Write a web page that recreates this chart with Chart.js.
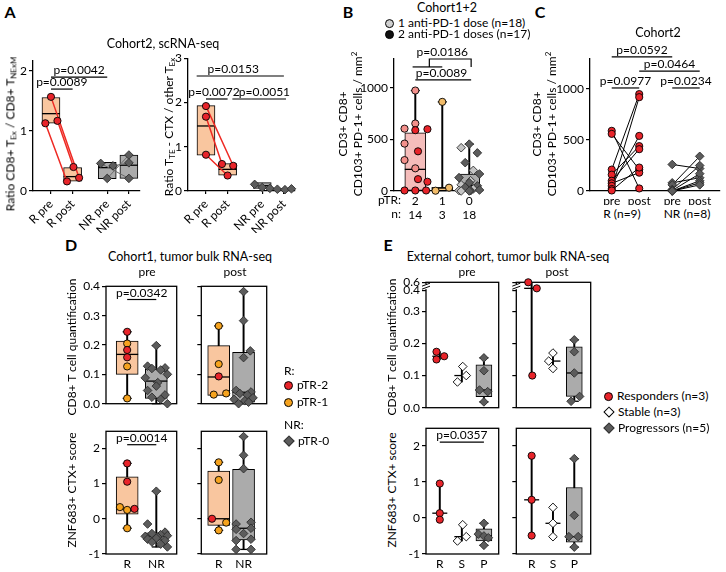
<!DOCTYPE html>
<html>
<head>
<meta charset="utf-8">
<title>Figure</title>
<script src="https://cdn.jsdelivr.net/npm/chart.js@4.4.1/dist/chart.umd.min.js"></script>
<style>
  body { margin: 0; background: #fff; }
  #fig { position: relative; width: 726px; height: 572px; overflow: hidden; font-family: Lato, "Liberation Sans", sans-serif; color: #000; }
  #fig canvas { position: absolute; }
  .t { position: absolute; white-space: nowrap; font-size: 12px; line-height: 1.15; transform: translate(-50%, -50%); }
  .l { transform: translate(0, -50%); }
  .r { transform: translate(-100%, -50%); }
  .v { transform: translate(-50%, -50%) rotate(-90deg); text-align: center; }
  .big { font-size: 16px; font-weight: 700; }
  .ttl { font-size: 12.5px; }
  sub { font-size: 8px; vertical-align: -2px; }
  sup { font-size: 8px; vertical-align: 5px; }
  .dot { display: inline-block; width: 7px; height: 7px; border-radius: 50%; border: 1px solid #000; margin-right: 4px; vertical-align: -1px; }
  .dia { display: inline-block; width: 6px; height: 6px; border: 1px solid #333; transform: rotate(45deg); margin-right: 5px; margin-left: 1px; vertical-align: 0; }
</style>
</head>
<body>
<div id="fig"></div>
<script>
// ---------- values ----------

// A left: Ratio CD8+ TEx / CD8+ TNExM (pre and post are paired by index)
const aCats = ['R pre', 'R post', 'NR pre', 'NR post'];
const aLeftRPre = [1.57, 1.13, 1.17];
const aLeftRPost = [0.22, 0.16, 0.40];
const aLeftNRPre = [0.46, 0.21, 0.42];
const aLeftNRPost = [0.21, 0.60, 0.47];
const aLeftBoxLow = [1.13, 0.165, 0.205, 0.21];
const aLeftBoxHigh = [1.56, 0.39, 0.48, 0.60];
const aLeftMedian = [1.29, 0.24, 0.39, 0.43];

// A right: Ratio TTE-CTX / other TEx
const aRightRPre = [1.92, 1.68, 0.82];
const aRightRPost = [0.57, 0.61, 0.35];
const aRightNRPre = [0.15, 0.08, 0.06];
const aRightNRPost = [0.04, 0.03, 0.05];
const aRightBoxLow = [0.81, 0.36, 0.06, 0.02];
const aRightBoxHigh = [1.93, 0.62, 0.19, 0.05];
const aRightMedian = [1.47, 0.49, 0.12, 0.03];

// B: cells / mm2 by pTR (dose 1 = light, dose 2 = dark)
const bCats = ['2', '1', '0'];
const bCounts = ['14', '3', '18'];
const bPtr2 = [975, 655, 605, 600, 590, 460, 385, 300, 220, 115, 90, 5, 5, 5];
const bPtr2Doses = [1, 1, 1, 2, 2, 1, 2, 1, 1, 2, 2, 2, 2, 2];
const bPtr1 = [865, 32, 3];
const bPtr0 = [455, 420, 370, 275, 200, 165, 130, 100, 80, 60, 50, 35, 20, 10, 5, 3, 0, 0];
const bPtr0Doses = [2, 1, 2, 2, 1, 2, 2, 1, 2, 1, 2, 2, 1, 2, 1, 2, 2, 1];
const bBoxLow = [0, 3, 3];
const bBoxHigh = [565, 32, 165];
const bMedian = [210, 30, 55];

// C: paired pre / post
const cCats = ['pre', 'post', 'pre', 'post'];
const cRPre = [590, 560, 210, 160, 100, 75, 50, 20, 5];
const cRPost = [25, 210, 950, 440, 410, 180, 540, 920, 230];
const cNRPre = [260, 80, 60, 15, 5, 0, 0, 0];
const cNRPost = [220, 130, 340, 250, 170, 100, 80, 60];

// D: Cohort1 bulk RNA-seq (type 2 = pTR-2, 1 = pTR-1)
const dCats = ['R', 'NR'];
const dCd8PreR = [0.245, 0.205, 0.183, 0.158, 0.127, 0.018];
const dCd8PreRType = [2, 1, 2, 2, 1, 1];
const dCd8PreNR = [0.198, 0.128, 0.122, 0.12, 0.115, 0.10, 0.088, 0.072, 0.06, 0.045, 0.03, 0.022, 0.015, 0.0];
const dCd8PostR = [0.265, 0.135, 0.093, 0.031, 0.035];
const dCd8PostRType = [1, 1, 2, 1, 1];
const dCd8PostNR = [0.382, 0.283, 0.18, 0.157, 0.045, 0.04, 0.035, 0.03, 0.02, 0.015, 0.01, 0.005, 0.0];
const dZnfPreR = [1.57, 1.05, 0.33, 0.25, 0.28, -0.27];
const dZnfPreRType = [2, 2, 1, 1, 2, 1];
const dZnfPreNR = [0.78, -0.15, -0.38, -0.42, -0.45, -0.48, -0.5, -0.52, -0.55, -0.58, -0.62, -0.66, -0.72, -0.8];
const dZnfPostR = [1.6, 1.1, 0.0, -0.11, -0.33];
const dZnfPostRType = [1, 1, 2, 1, 1];
const dZnfPostNR = [2.33, 1.8, 1.42, -0.1, -0.15, -0.27, -0.3, -0.42, -0.58, -0.62, -0.87, -0.87];
// box [low, high, median] for R and NR
const dCd8PreBox = [[0.10, 0.213, 0.168], [0.018, 0.118, 0.077]];
const dCd8PostBox = [[0.028, 0.198, 0.091], [0.005, 0.175, 0.039]];
const dZnfPreBox = [[0.13, 1.19, 0.28], [-0.61, -0.40, -0.50]];
const dZnfPostBox = [[-0.19, 1.35, 0.0], [-0.60, 1.40, -0.27]];

// E: external cohort (R responders, S stable, P progressors)
const eCats = ['R', 'S', 'P'];
const eCd8PreR = [0.174, 0.15, 0.16];
const eCd8PreS = [0.128, 0.10, 0.08];
const eCd8PreP = [0.155, 0.115, 0.055, 0.05, 0.018];
const eCd8PostR = [0.60, 0.45, 0.10];
const eCd8PostS = [0.17, 0.145, 0.122];
const eCd8PostP = [0.211, 0.174, 0.108, 0.035, 0.02];
const eZnfPreR = [0.95, 0.13, -0.05];
const eZnfPreS = [-0.19, -0.52, -0.64];
const eZnfPreP = [-0.15, -0.45, -0.5, -0.55, -0.76];
const eZnfPostR = [1.72, 0.5, -0.49];
const eZnfPostS = [0.29, -0.15, -0.52];
const eZnfPostP = [1.64, 0.07, -0.52, -0.52, -0.81];
// box [low, high] for P
const eCd8PrePBox = [0.034, 0.133];
const eCd8PostPBox = [0.035, 0.189];
const eZnfPrePBox = [-0.64, -0.30];
const eZnfPostPBox = [-0.67, 0.84];

// ---------- styling ----------
const FONT = 'Lato, "Liberation Sans", sans-serif';
const RED = '#e8242a', ORANGE = '#f6a31e', PINK = '#f3908b', LORANGE = '#f3bd6a';
const DGRAY = '#5c5c5c', LGRAY = '#c4c4c4';
const BOX_OR = '#f9c69f', BOX_GR = '#ababab', BOX_PK = '#f5bdbb';
const JIT = [0, -0.3, 0.3, -0.15, 0.15, 0.38, -0.38, 0.05];

Chart.defaults.font.family = FONT;
Chart.defaults.font.size = 12;
Chart.defaults.color = '#000';

const fig = document.getElementById('fig');

const median = a => [...a].sort((p, q) => p - q)[Math.floor(a.length / 2)];

function grp(x0, vals, jit, colors, shape, border) {
    return vals.map((v, i) => ({
        x: x0 + (jit ? jit[i % jit.length] : 0),
        y: v,
        c: Array.isArray(colors) ? colors[i] : colors,
        s: shape,
        b: border || (shape === 'rectRot' ? '#2e2e2e' : '#000')
    }));
}

function pointSet(points) {
    return {
        type: 'scatter', order: 0, clip: false,
        data: points.map(p => ({ x: p.x, y: p.y })),
        pointBackgroundColor: points.map(p => p.c),
        pointBorderColor: points.map(p => p.b),
        pointStyle: points.map(p => p.s),
        pointRadius: points.map(p => p.s === 'rectRot' ? 4.3 : 3.6),
        pointBorderWidth: 0.9
    };
}

function pairLines(x0, x1, pre, post, jPre, jPost, color, width) {
    const data = [];
    pre.forEach((v, i) => {
        data.push({ x: x0 + (jPre ? jPre[i] : 0), y: v }, { x: x1 + (jPost ? jPost[i] : 0), y: post[i] }, { x: x1, y: null });
    });
    return { type: 'line', order: 1, clip: false, data, borderColor: color, borderWidth: width, pointRadius: 0, spanGaps: false, fill: false, tension: 0 };
}

function boxSets(boxes, half) {
    const whisk = boxes.filter(b => b.min != null);
    const bx = boxes.filter(b => b.lo != null);
    const meds = boxes.filter(b => b.med != null);
    return [
        { type: 'bar', order: 5, clip: false, grouped: false, barThickness: 1.3, backgroundColor: '#000', borderWidth: 0,
          data: whisk.map(b => ({ x: b.x, y: [b.min, b.max] })) },
        { type: 'scatter', order: 4, clip: false, pointStyle: 'line', pointRadius: 4.5, pointBorderWidth: 1.3, pointBorderColor: '#000',
          data: whisk.filter(b => b.caps).flatMap(b => [{ x: b.x, y: b.min }, { x: b.x, y: b.max }]) },
        { type: 'bar', order: 3, clip: false, grouped: false, barThickness: half * 2, borderSkipped: false, borderWidth: 1, borderColor: '#000',
          backgroundColor: bx.map(b => b.fill), data: bx.map(b => ({ x: b.x, y: [b.lo, b.hi] })) },
        { type: 'scatter', order: 2, clip: false, pointStyle: 'line', pointRadius: meds.map(b => b.mw || half), pointBorderWidth: 1.3, pointBorderColor: '#000',
          data: meds.map(b => ({ x: b.x, y: b.med })) }
    ];
}

function xAxis(g, min, max, pos, labels, o = {}) {
    return {
        type: 'linear', min, max, offset: false,
        afterBuildTicks: s => { s.ticks = pos.map(v => ({ value: v })); },
        afterFit: s => { s.height = g.xH; s.paddingLeft = 0; s.paddingRight = 0; },
        grid: { display: !!o.marks, drawOnChartArea: false, drawTicks: true, tickLength: o.marks || 0, color: '#000', lineWidth: 1.2, offset: false },
        border: { display: !g.frame, color: '#000', width: 1.3 },
        ticks: {
            display: !!labels, autoSkip: false, minRotation: o.rot || 0, maxRotation: o.rot || 0,
            padding: o.pad == null ? 3 : o.pad, font: { size: 12, lineHeight: 1.2 }, color: '#000',
            callback: (v, i) => labels ? labels[i] : ''
        }
    };
}

function yAxis(g, min, max, ticks, labels) {
    return {
        type: 'linear', min, max,
        afterBuildTicks: s => { s.ticks = ticks.map(v => ({ value: v })); },
        afterFit: s => { s.width = g.yW; s.paddingTop = 0; s.paddingBottom = 0; },
        grid: { display: true, drawOnChartArea: false, drawTicks: true, tickLength: 4, color: '#000', lineWidth: 1.2 },
        border: { display: !g.frame, color: '#000', width: 1.3 },
        ticks: { padding: 2, font: { size: 12 }, color: '#000', callback: (v, i) => labels ? labels[i] : '' }
    };
}

function annotPlugin(a) {
    return {
        id: 'annot',
        beforeDatasetsDraw(chart) {
            if (!a.frame) return;
            const { ctx, chartArea: c } = chart;
            ctx.save();
            ctx.strokeStyle = '#000';
            ctx.lineWidth = 1.3;
            ctx.strokeRect(c.left, c.top, c.right - c.left, c.bottom - c.top);
            ctx.restore();
        },
        afterDraw(chart) {
            const { ctx, scales: { x, y }, chartArea: c } = chart;
            ctx.save();
            ctx.strokeStyle = '#000';
            ctx.fillStyle = '#000';
            ctx.lineWidth = 1.2;
            ctx.font = '12px ' + FONT;
            ctx.textAlign = 'center';
            ctx.textBaseline = 'alphabetic';
            (a.brackets || []).forEach(b => {
                const x1 = x.getPixelForValue(b.x1), x2 = x.getPixelForValue(b.x2), yy = y.getPixelForValue(b.y);
                ctx.beginPath();
                if (b.drop != null) {
                    const yd = y.getPixelForValue(b.drop);
                    ctx.moveTo(x1, yd); ctx.lineTo(x1, yy); ctx.lineTo(x2, yy); ctx.lineTo(x2, yd);
                } else {
                    ctx.moveTo(x1, yy); ctx.lineTo(x2, yy);
                }
                ctx.stroke();
                if (b.text) ctx.fillText(b.text, x.getPixelForValue(b.tx != null ? b.tx : (b.x1 + b.x2) / 2), yy - 3);
            });
            if (a.brk != null) {
                const yb = y.getPixelForValue(a.brk);
                ctx.fillStyle = '#fff';
                ctx.fillRect(c.left - 2, yb - 2, 4, 5);
                ctx.beginPath();
                ctx.moveTo(c.left - 4, yb); ctx.lineTo(c.left + 4, yb - 3);
                ctx.moveTo(c.left - 4, yb + 3); ctx.lineTo(c.left + 4, yb);
                ctx.lineWidth = 1;
                ctx.stroke();
            }
            ctx.restore();
        }
    };
}

function addChart(g, xs, ys, datasets, annot = {}) {
    const w = g.R - g.L + g.yW + g.pr, h = g.B - g.T + g.pt + g.xH;
    const cv = document.createElement('canvas');
    cv.width = w;
    cv.height = h;
    Object.assign(cv.style, { left: (g.L - g.yW) + 'px', top: (g.T - g.pt) + 'px', width: w + 'px', height: h + 'px' });
    fig.appendChild(cv);
    annot.frame = !!g.frame;
    new Chart(cv, {
        type: 'scatter',
        data: { datasets },
        options: {
            responsive: false, animation: false, events: [], devicePixelRatio: 1,
            layout: { padding: { top: g.pt, right: g.pr, left: 0, bottom: 0 } },
            plugins: { legend: { display: false }, tooltip: { enabled: false } },
            scales: { x: xs, y: ys }
        },
        plugins: [annotPlugin(annot)]
    });
}

function text(html, x, y, cls = '') {
    const d = document.createElement('div');
    d.className = 't ' + cls;
    d.innerHTML = html;
    d.style.left = x + 'px';
    d.style.top = y + 'px';
    fig.appendChild(d);
}

// ---------- layout of plot areas (page pixels) ----------
const gAL = { L: 33, T: 60, R: 146, B: 191, yW: 18, xH: 42, pt: 10, pr: 4 };
const gAR = { L: 188, T: 58, R: 301, B: 191, yW: 18, xH: 42, pt: 10, pr: 4 };
const gB = { L: 394, T: 59, R: 490, B: 191, yW: 34, xH: 32, pt: 16, pr: 4 };
const gC = { L: 590, T: 59, R: 722, B: 191, yW: 34, xH: 14, pt: 18, pr: 3 };
const gD1 = { L: 106, T: 282, R: 186, B: 412, yW: 28, xH: 4, pt: 8, pr: 3, frame: true };
const gD2 = { L: 197, T: 282, R: 276, B: 412, yW: 8, xH: 4, pt: 8, pr: 3, frame: true };
const gD3 = { L: 106, T: 423, R: 186, B: 554, yW: 28, xH: 18, pt: 4, pr: 3, frame: true };
const gD4 = { L: 197, T: 423, R: 276, B: 554, yW: 8, xH: 18, pt: 4, pr: 3, frame: true };
const gE1 = { L: 426, T: 281, R: 505, B: 413, yW: 26, xH: 4, pt: 8, pr: 3, frame: true };
const gE2 = { L: 515, T: 281, R: 597, B: 413, yW: 8, xH: 4, pt: 8, pr: 3, frame: true };
const gE3 = { L: 426, T: 423, R: 505, B: 554, yW: 26, xH: 18, pt: 4, pr: 3, frame: true };
const gE4 = { L: 515, T: 423, R: 597, B: 554, yW: 8, xH: 18, pt: 4, pr: 3, frame: true };

// ---------- A ----------
const aPos = [0, 1, 2.6, 3.6];
(() => {
    const g = gAL;
    const pts = [
        ...grp(aPos[0], aLeftRPre, [0, -0.26, 0.3], RED, 'circle'),
        ...grp(aPos[1], aLeftRPost, [0.3, -0.26, 0.04], RED, 'circle'),
        ...grp(aPos[2], aLeftNRPre, [-0.3, 0, 0.27], DGRAY, 'rectRot'),
        ...grp(aPos[3], aLeftNRPost, [0, 0, 0], DGRAY, 'rectRot')
    ];
    const boxes = aPos.map((p, i) => ({ x: p, lo: aLeftBoxLow[i], hi: aLeftBoxHigh[i], med: aLeftMedian[i], fill: i < 2 ? BOX_OR : BOX_GR }));
    addChart(g, xAxis(g, -0.83, 4.1, aPos, aCats, { rot: 45, marks: 3 }), yAxis(g, 0, 2.18, [0, 1, 2], ['0', '1', '2']), [
        pointSet(pts),
        pairLines(aPos[0], aPos[1], aLeftRPre, aLeftRPost, [0, -0.26, 0.3], [0.3, -0.26, 0.04], '#ee2a24', 1.5),
        pairLines(aPos[2], aPos[3], aLeftNRPre, aLeftNRPost, [-0.3, 0, 0.27], [0, 0, 0], '#6a6a6a', 1),
        ...boxSets(boxes, 9)
    ], {
        brackets: [
            { x1: 0, x2: 1, y: 1.70, text: 'p=0.0089' },
            { x1: 0, x2: 2.6, y: 1.90, text: 'p=0.0042' }
        ]
    });
})();

(() => {
    const g = gAR;
    const jPre = [0, 0, 0], jPost = [0.26, -0.26, 0], jNPre = [-0.35, 0, 0.35], jNPost = [-0.3, 0.05, 0.35];
    const pts = [
        ...grp(aPos[0], aRightRPre, jPre, RED, 'circle'),
        ...grp(aPos[1], aRightRPost, jPost, RED, 'circle'),
        ...grp(aPos[2], aRightNRPre, jNPre, DGRAY, 'rectRot'),
        ...grp(aPos[3], aRightNRPost, jNPost, DGRAY, 'rectRot')
    ];
    const boxes = aPos.map((p, i) => ({ x: p, lo: aRightBoxLow[i], hi: aRightBoxHigh[i], med: aRightMedian[i], fill: i < 2 ? BOX_OR : BOX_GR }));
    addChart(g, xAxis(g, -0.83, 4.1, aPos, aCats, { rot: 45, marks: 3 }), yAxis(g, 0, 3, [0, 1, 2, 3], ['0', '1', '2', '3']), [
        pointSet(pts),
        pairLines(aPos[0], aPos[1], aRightRPre, aRightRPost, jPre, jPost, '#ee2a24', 1.5),
        pairLines(aPos[2], aPos[3], aRightNRPre, aRightNRPost, jNPre, jNPost, '#6a6a6a', 1),
        ...boxSets(boxes, 9)
    ], {
        brackets: [
            { x1: 0, x2: 1, y: 2.08, text: 'p=0.0072', tx: 0.37 },
            { x1: 1.22, x2: 3.7, y: 2.08, text: 'p=0.0051', tx: 2.7 },
            { x1: -0.43, x2: 3.6, y: 2.6, text: 'p=0.0153', tx: 1.26 }
        ]
    });
})();

// ---------- B ----------
(() => {
    const g = gB;
    const bPos = [0, 1, 2];
    const groups = [bPtr2, bPtr1, bPtr0];
    const pts = [
        ...grp(0, bPtr2, [0, 0, -0.4, 0.45, 0, -0.4, 0.1, -0.4, 0, 0.1, 0.45, -0.4, 0, 0.4], bPtr2Doses.map(d => d === 2 ? RED : PINK), 'circle'),
        ...grp(1, bPtr1, [0, 0.25, -0.25], LORANGE, 'circle'),
        ...grp(2, bPtr0, JIT, bPtr0Doses.map(d => d === 2 ? DGRAY : LGRAY), 'rectRot')
    ];
    const boxes = bPos.map((p, i) => ({
        x: p, lo: bBoxLow[i], hi: bBoxHigh[i], med: bMedian[i],
        min: Math.min(...groups[i]), max: Math.max(...groups[i]), caps: true,
        fill: [BOX_PK, '#f7c27a', BOX_GR][i]
    }));
    addChart(g, xAxis(g, -0.79, 2.48, bPos, bCats.map((c, i) => [c, bCounts[i]])),
        yAxis(g, 0, 1281, [0, 500, 1000], ['0', '500', '1000']), [
        pointSet(pts),
        ...boxSets(boxes, 10.5)
    ], {
        brackets: [
            { x1: -0.1, x2: 1.0, y: 1204 },
            { x1: 0.52, x2: 2.07, y: 1281, drop: 1204, text: 'p=0.0186', tx: 1.0 },
            { x1: 0, x2: 2.07, y: 1078, text: 'p=0.0089', tx: 0.97 }
        ]
    });
})();

// ---------- C ----------
(() => {
    const g = gC;
    const cPos = [0, 1, 2.2, 3.2];
    const pts = [
        ...grp(cPos[0], cRPre, null, RED, 'circle'),
        ...grp(cPos[1], cRPost, null, RED, 'circle'),
        ...grp(cPos[2], cNRPre, null, DGRAY, 'rectRot'),
        ...grp(cPos[3], cNRPost, null, DGRAY, 'rectRot')
    ];
    addChart(g, xAxis(g, -0.79, 3.93, cPos, cCats), yAxis(g, 0, 1294, [0, 500, 1000], ['0', '500', '1000']), [
        pointSet(pts),
        pairLines(cPos[0], cPos[1], cRPre, cRPost, null, null, '#000', 1),
        pairLines(cPos[2], cPos[3], cNRPre, cNRPost, null, null, '#000', 1)
    ], {
        brackets: [
            { x1: 0, x2: 2.2, y: 1314, text: 'p=0.0592' },
            { x1: 1, x2: 3.2, y: 1176, text: 'p=0.0464' },
            { x1: 0, x2: 1, y: 1010, text: 'p=0.0977' },
            { x1: 2.2, x2: 3.2, y: 1010, text: 'p=0.0234' }
        ]
    });
})();

// ---------- D ----------
function dPanel(g, xmin, xmax, rVals, rTypes, rJit, nrVals, nrJit, box, yr, yt, ylab, xlab, brackets) {
    const pts = [
        ...grp(0, rVals, rJit, rTypes.map(t => t === 2 ? RED : ORANGE), 'circle'),
        ...grp(1, nrVals, nrJit, DGRAY, 'rectRot')
    ];
    const boxes = [rVals, nrVals].map((vals, i) => ({
        x: i, lo: box[i][0], hi: box[i][1], med: box[i][2],
        min: Math.min(...vals), max: Math.max(...vals), caps: true, fill: i === 0 ? BOX_OR : BOX_GR
    }));
    addChart(g, xAxis(g, xmin, xmax, [0, 1], xlab), yAxis(g, yr[0], yr[1], yt, ylab), [pointSet(pts), ...boxSets(boxes, 11)], { brackets });
}
const dTopTicks = [0, 0.1, 0.2, 0.3, 0.4];
const dTopLabels = dTopTicks.map(v => v.toFixed(1));
const scoreTicks = [-1, 0, 1, 2];
const scoreLabels = ['-1', '0', '1', '2'];
dPanel(gD1, -0.727, 1.70, dCd8PreR, dCd8PreRType, [0, 0, 0, 0, 0, 0], dCd8PreNR, JIT, dCd8PreBox,
    [0, 0.4], dTopTicks, dTopLabels, null, [{ x1: 0, x2: 1, y: 0.355, text: 'p=0.0342' }]);
dPanel(gD2, -0.7, 1.93, dCd8PostR, dCd8PostRType, [0, 0, 0, -0.2, 0.3], dCd8PostNR, [0, 0, 0.27, 0, -0.3, 0.3, -0.15, 0.15, 0.38, -0.38, 0.05, 0.2, -0.2], dCd8PostBox,
    [0, 0.4], dTopTicks, null, null, []);
dPanel(gD3, -0.727, 1.70, dZnfPreR, dZnfPreRType, [0, 0, -0.25, 0, 0.25, 0], dZnfPreNR, JIT, dZnfPreBox,
    [-1, 2.48], scoreTicks, scoreLabels, dCats, [{ x1: 0, x2: 1, y: 2.1, text: 'p=0.0014' }]);
dPanel(gD4, -0.7, 1.93, dZnfPostR, dZnfPostRType, [0, 0, -0.27, 0.3, 0], dZnfPostNR, [0, 0, 0, 0.3, -0.3, 0.3, -0.3, 0, 0.3, -0.3, -0.3, 0.3], dZnfPostBox,
    [-1, 2.48], scoreTicks, null, dCats, []);

// ---------- E ----------
// broken y axis above 0.4 in the CD8+ rows: 0.4 -> 0.365, 0.6 -> 0.39 on the drawn scale
const brk = v => v <= 0.35 ? v : 0.365 + (v - 0.4) * 0.125;
function ePanel(g, xmin, xmax, r, s, p, jr, js, jp, pBox, yr, yt, ylab, xlab, map, extra) {
    const f = map || (v => v);
    const pts = [
        ...grp(0, r.map(f), jr, RED, 'circle'),
        ...grp(1, s.map(f), js, '#fff', 'rectRot', '#000'),
        ...grp(2, p.map(f), jp, DGRAY, 'rectRot')
    ];
    const boxes = [
        { x: 0, med: f(median(r)), min: f(Math.min(...r)), max: f(Math.max(...r)), mw: 7.5 },
        { x: 1, med: f(median(s)), min: f(Math.min(...s)), max: f(Math.max(...s)), mw: 7.5 },
        { x: 2, lo: f(pBox[0]), hi: f(pBox[1]), med: f(median(p)), min: f(Math.min(...p)), max: f(Math.max(...p)), caps: true, fill: BOX_GR }
    ];
    addChart(g, xAxis(g, xmin, xmax, [0, 1, 2], xlab), yAxis(g, yr[0], yr[1], yt, ylab), [pointSet(pts), ...boxSets(boxes, 8)], extra);
}
const eTopTicks = [0, 0.1, 0.2, 0.3, 0.365, 0.39];
const eTopLabels = ['0.0', '0.1', '0.2', '0.3', '0.4', '0.6'];
ePanel(gE1, -0.625, 2.67, eCd8PreR, eCd8PreS, eCd8PreP, [-0.15, -0.15, 0.2], [0.04, 0.2, -0.2], [0, 0, -0.2, 0.17, 0], eCd8PrePBox,
    [0, 0.39], eTopTicks, eTopLabels, null, brk, { brk: 0.378 });
ePanel(gE2, -0.72, 2.77, eCd8PostR, eCd8PostS, eCd8PostP, [-0.16, 0.24, 0.03], [0, -0.2, 0], [0, 0, 0, 0.25, -0.15], eCd8PostPBox,
    [0, 0.39], eTopTicks, null, null, brk, { brk: 0.378 });
ePanel(gE3, -0.625, 2.67, eZnfPreR, eZnfPreS, eZnfPreP, [0, 0, 0], [0.04, 0.2, -0.2], [0, -0.25, 0, 0.2, 0], eZnfPrePBox,
    [-1, 2.48], scoreTicks, scoreLabels, eCats, null, { brackets: [{ x1: 0, x2: 2, y: 2.1, text: 'p=0.0357' }] });
ePanel(gE4, -0.72, 2.77, eZnfPostR, eZnfPostS, eZnfPostP, [0, 0, 0], [0, 0, 0], [0, 0, -0.25, 0.18, 0], eZnfPostPBox,
    [-1, 2.48], scoreTicks, null, eCats, null, {});

// ---------- text ----------
text('A', 10, 12, 'big');
text('B', 348, 12, 'big');
text('C', 540, 12, 'big');
text('D', 71, 245, 'big');
text('E', 388, 245, 'big');

text('Cohort2, scRNA-seq', 163, 44, 'ttl');
text('Ratio CD8+ T<sub>Ex</sub> / CD8+ T<sub>NExM</sub>', 11, 134, 'v');
text('Ratio T<sub>TE</sub> - CTX / other T<sub>Ex</sub>', 170, 127, 'v');

text('Cohort1+2', 447, 8, 'ttl');
text('<span class="dot" style="background:#d0d0d0"></span>1 anti-PD-1 dose (n=18)', 385, 23, 'l');
text('<span class="dot" style="background:#111"></span>2 anti-PD-1 doses (n=17)', 385, 34, 'l');
text('CD3+ CD8+<br>CD103+ PD-1+ cells / mm<sup>2</sup>', 350, 124, 'v');
text('pTR:', 401, 200, 'r');
text('n:', 401, 214, 'r');

text('Cohort2', 658, 33, 'ttl');
text('CD3+ CD8+<br>CD103+ PD-1+ cells / mm<sup>2</sup>', 544, 124, 'v');
text('R (n=9)', 622, 214);
text('NR (n=8)', 687, 214);

text('Cohort1, tumor bulk RNA-seq', 190, 257, 'ttl');
text('pre', 147, 272);
text('post', 235, 272);
text('CD8+ T cell quantification', 72, 347, 'v');
text('ZNF683+ CTX+ score', 72, 490, 'v');
text('R:', 284, 371, 'l');
text('<span class="dot" style="background:' + RED + '"></span>pTR-2', 284, 385, 'l');
text('<span class="dot" style="background:' + ORANGE + '"></span>pTR-1', 284, 402, 'l');
text('NR:', 284, 425, 'l');
text('<span class="dia" style="background:' + DGRAY + '"></span>pTR-0', 284, 441, 'l');

text('External cohort, tumor bulk RNA-seq', 508, 257, 'ttl');
text('pre', 467, 272);
text('post', 557, 272);
text('CD8+ T cell quantification', 392, 347, 'v');
text('ZNF683+ CTX+ score', 392, 490, 'v');
text('<span class="dot" style="background:' + RED + '"></span>Responders (n=3)', 604, 396, 'l');
text('<span class="dia" style="background:#fff;border-color:#000"></span>Stable (n=3)', 604, 412, 'l');
text('<span class="dia" style="background:' + DGRAY + '"></span>Progressors (n=5)', 604, 428, 'l');
</script>
</body>
</html>
